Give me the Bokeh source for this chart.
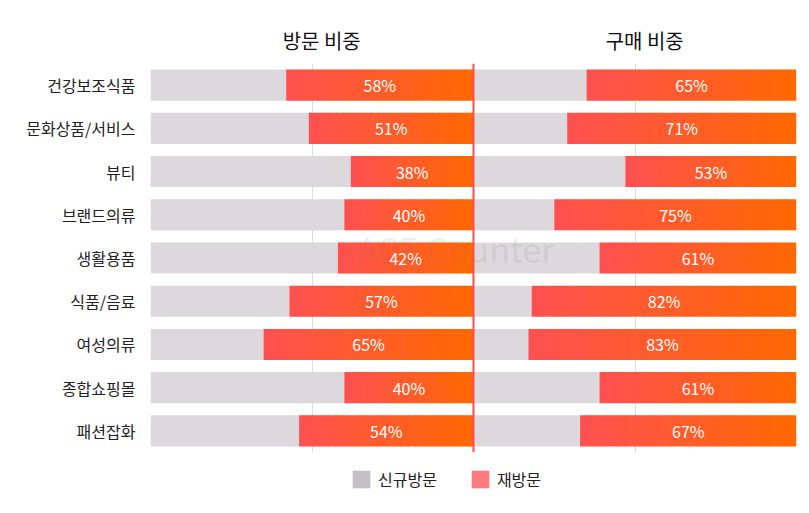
# 방문 비중 / 구매 비중 : 카테고리별 신규방문 vs 재방문 비율 (100% 누적 가로막대)

from bokeh.core.properties import value
from bokeh.embed import file_html
from bokeh.layouts import column
from bokeh.models import ColumnDataSource, FactorRange, FixedTicker, Legend, LegendItem, Range1d, Span
from bokeh.plotting import figure
from bokeh.resources import INLINE

# %%
# 데이터
categories = ["건강보조식품", "문화상품/서비스", "뷰티", "브랜드의류", "생활용품", "식품/음료", "여성의류", "종합쇼핑몰", "패션잡화"]
visit_revisit = [58, 51, 38, 40, 42, 57, 65, 40, 54]  # 방문 비중 중 재방문 %
buy_revisit = [65, 71, 53, 75, 61, 82, 83, 61, 67]  # 구매 비중 중 재방문 %
panel_titles = ["방문 비중", "구매 비중"]
legend_labels = ["신규방문", "재방문"]

FONT = "Noto Sans CJK KR"
GRAY = "#dcd8dc"
GRAD_START = (255, 80, 82)
GRAD_END = (255, 104, 0)
STEPS = 24  # 그라데이션 조각 수
BAR_H = 0.72


def mix(c1, c2, t):
    return "#%02x%02x%02x" % tuple(round(a + (b - a) * t) for a, b in zip(c1, c2))


# %%
p = figure(width=805, height=462, x_range=Range1d(0, 200), y_range=FactorRange(factors=list(reversed(categories))),
           x_axis_location="above", output_backend="svg", toolbar_location=None)
p.min_border_left = 150
p.min_border_right = 9
p.min_border_top = 63
p.min_border_bottom = 10
p.outline_line_color = None

# 위쪽 축은 패널 제목으로 사용
p.xaxis.ticker = FixedTicker(ticks=[53, 153])
p.xaxis.major_label_overrides = {53: panel_titles[0], 153: panel_titles[1]}
p.xaxis.axis_line_color = None
p.xaxis.major_tick_line_color = None
p.xaxis.minor_tick_line_color = None
p.xaxis.major_label_text_font = FONT
p.xaxis.major_label_text_font_size = "20px"
p.xaxis.major_label_text_color = "#111111"
p.xaxis.major_label_standoff = 3

p.yaxis.axis_line_color = None
p.yaxis.major_tick_line_color = None
p.yaxis.minor_tick_line_color = None
p.yaxis.major_label_text_font = FONT
p.yaxis.major_label_text_font_size = "16px"
p.yaxis.major_label_text_color = "#222222"
p.yaxis.major_label_standoff = 9

p.xgrid.ticker = FixedTicker(ticks=[0, 50, 150, 200])
p.xgrid.grid_line_color = "#dddddd"
p.ygrid.grid_line_color = None

for offset, vals in ((0, visit_revisit), (100, buy_revisit)):
    # 신규방문 (회색)
    p.hbar(y=categories, left=offset, right=[offset + 100 - v for v in vals], height=BAR_H,
           fill_color=GRAY, line_color=None)

    # 재방문 (그라데이션을 조각으로 흉내)
    ys, lefts, rights, colors = [], [], [], []
    for cat, v in zip(categories, vals):
        start = offset + 100 - v
        w = v / STEPS
        for k in range(STEPS):
            ys.append(cat)
            lefts.append(start + k * w)
            rights.append(min(start + (k + 1) * w + 0.3, offset + 100))
            colors.append(mix(GRAD_START, GRAD_END, (k + 0.5) / STEPS))
    src = ColumnDataSource(data=dict(y=ys, left=lefts, right=rights, color=colors))
    p.hbar(y="y", left="left", right="right", height=BAR_H, fill_color="color", line_color=None, source=src)

    p.text(x=[offset + 100 - v / 2 for v in vals], y=categories, text=[f"{v}%" for v in vals],
           text_align="center", text_baseline="middle", text_color="white",
           text_font=value(FONT), text_font_size="16px")

# 가운데 빨간 구분선
p.add_layout(Span(location=100, dimension="height", line_color="#ff4d4d", line_width=2))

# 워터마크
p.text(x=[94.4], y=["생활용품"], text=["ACE Counter"], y_offset=-10, text_align="center",
       text_baseline="middle", text_color="#777777", text_alpha=0.12,
       text_font=value(FONT), text_font_size="34px")

# %%
# 범례는 아래쪽 작은 figure에 따로 그림 (더미 사각형은 보이는 범위 밖)
leg = figure(width=805, height=48, x_range=Range1d(0, 1), y_range=Range1d(0, 1),
             output_backend="svg", toolbar_location=None)
leg.axis.visible = False
leg.grid.visible = False
leg.outline_line_color = None
leg.min_border = 0
r_new = leg.quad(left=[2], right=[3], top=[3], bottom=[2], fill_color="#c5bfc6", line_color=None)
r_re = leg.quad(left=[2], right=[3], top=[3], bottom=[2], fill_color="#ff7a7e", line_color=None)
legend = Legend(items=[LegendItem(label=legend_labels[0], renderers=[r_new]),
                       LegendItem(label=legend_labels[1], renderers=[r_re])],
                orientation="horizontal", location=(195, 14), padding=5, margin=0,
                glyph_width=22, glyph_height=22, label_standoff=6, spacing=32,
                label_text_font=FONT, label_text_font_size="16px", label_text_color="#222222",
                border_line_alpha=0, background_fill_alpha=0)
leg.add_layout(legend)

open("out.html", "w").write(file_html(column(p, leg), INLINE))
